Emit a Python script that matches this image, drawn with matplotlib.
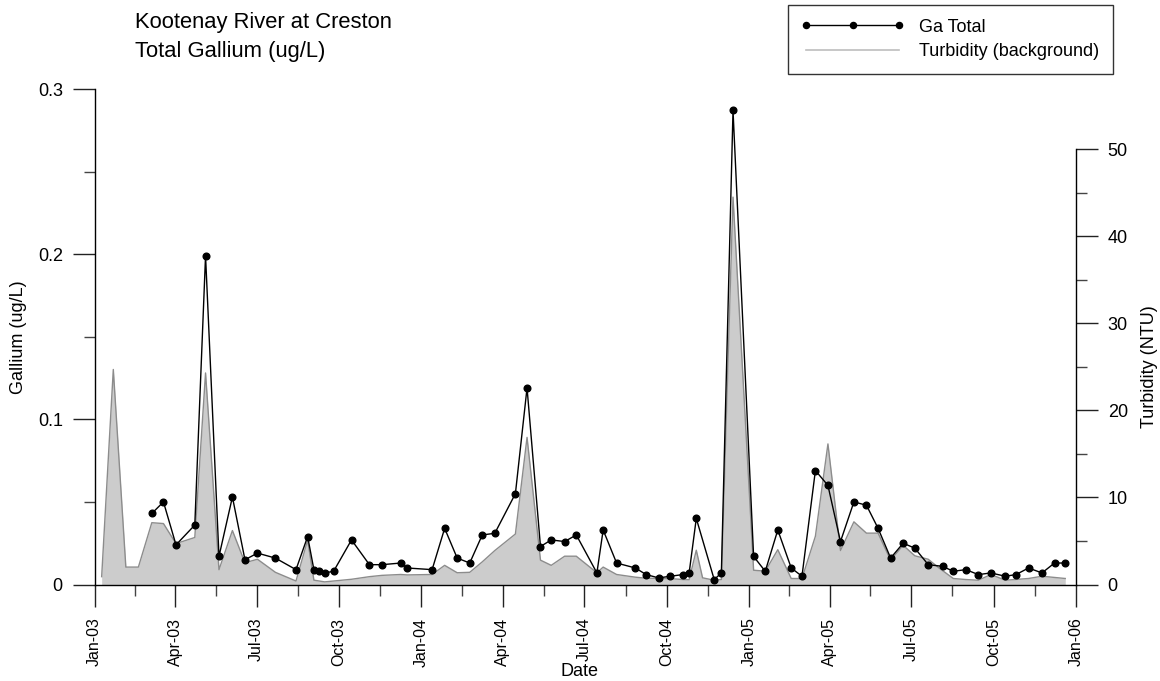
import matplotlib
matplotlib.use("Agg")
import matplotlib.pyplot as plt
import matplotlib.dates as mdates
import numpy as np
import pandas as pd
from matplotlib.lines import Line2D

plt.rcParams['font.family'] = ['Liberation Sans', 'DejaVu Sans']

# ---------------- data ----------------
ga_dates = [
    "2003-03-06", "2003-03-19", "2003-04-02", "2003-04-23", "2003-05-05", "2003-05-20",
    "2003-06-04", "2003-06-18", "2003-07-02", "2003-07-22", "2003-08-14", "2003-08-27",
    "2003-09-03", "2003-09-09", "2003-09-15", "2003-09-25", "2003-10-15", "2003-11-04",
    "2003-11-18", "2003-12-09", "2003-12-16",
    "2004-01-13", "2004-01-27", "2004-02-10", "2004-02-24", "2004-03-09", "2004-03-23",
    "2004-04-15", "2004-04-28", "2004-05-13", "2004-05-25", "2004-06-09", "2004-06-22",
    "2004-07-15", "2004-07-22", "2004-08-06", "2004-08-27", "2004-09-08", "2004-09-22",
    "2004-10-05", "2004-10-19", "2004-10-26", "2004-11-03", "2004-11-23", "2004-12-01",
    "2004-12-14",
    "2005-01-06", "2005-01-19", "2005-02-02", "2005-02-17", "2005-03-01", "2005-03-16",
    "2005-03-30", "2005-04-13", "2005-04-28", "2005-05-12", "2005-05-25", "2005-06-08",
    "2005-06-22", "2005-07-05", "2005-07-20", "2005-08-05", "2005-08-17", "2005-08-31",
    "2005-09-14", "2005-09-28", "2005-10-14", "2005-10-26", "2005-11-09", "2005-11-24",
    "2005-12-08", "2005-12-20",
]
ga_values = [
    0.043, 0.050, 0.024, 0.036, 0.199, 0.017,
    0.053, 0.015, 0.019, 0.016, 0.009, 0.029,
    0.009, 0.008, 0.007, 0.008, 0.027, 0.012,
    0.012, 0.013, 0.010,
    0.009, 0.034, 0.016, 0.013, 0.030, 0.031,
    0.055, 0.119, 0.023, 0.027, 0.026, 0.030,
    0.007, 0.033, 0.013, 0.010, 0.006, 0.004,
    0.005, 0.006, 0.007, 0.040, 0.003, 0.007,
    0.287,
    0.017, 0.008, 0.033, 0.010, 0.005, 0.069,
    0.060, 0.026, 0.050, 0.048, 0.034, 0.016,
    0.025, 0.022, 0.012, 0.011, 0.008, 0.009,
    0.006, 0.007, 0.005, 0.006, 0.010, 0.007,
    0.013, 0.013,
]

turb_dates = [
    "2003-01-09", "2003-01-22", "2003-02-05", "2003-02-19", "2003-03-06", "2003-03-19",
    "2003-04-02", "2003-04-23", "2003-05-05", "2003-05-20", "2003-06-04", "2003-06-18",
    "2003-07-02", "2003-07-22", "2003-08-14", "2003-08-27", "2003-09-03", "2003-09-15",
    "2003-10-15", "2003-11-04", "2003-11-18", "2003-12-09", "2003-12-16",
    "2004-01-13", "2004-01-27", "2004-02-10", "2004-02-24", "2004-03-09", "2004-03-23",
    "2004-04-15", "2004-04-28", "2004-05-13", "2004-05-25", "2004-06-09", "2004-06-22",
    "2004-07-15", "2004-07-22", "2004-08-06", "2004-08-27", "2004-09-08", "2004-09-22",
    "2004-10-05", "2004-10-19", "2004-10-26", "2004-11-03", "2004-11-10", "2004-11-23",
    "2004-12-01", "2004-12-14",
    "2005-01-06", "2005-01-19", "2005-02-02", "2005-02-17", "2005-03-01", "2005-03-16",
    "2005-03-30", "2005-04-13", "2005-04-28", "2005-05-12", "2005-05-25", "2005-06-08",
    "2005-06-22", "2005-07-05", "2005-07-20", "2005-08-01", "2005-08-17", "2005-08-31",
    "2005-09-14", "2005-09-28", "2005-10-14", "2005-11-09", "2005-11-24", "2005-12-20",
]
turb_values = [
    0.9, 24.7, 2.0, 2.0, 7.1, 7.0,
    4.7, 5.4, 24.3, 1.7, 6.2, 2.5,
    2.9, 1.4, 0.4, 5.1, 0.5, 0.3,
    0.6, 0.9, 1.05, 1.15, 1.1,
    1.15, 2.2, 1.35, 1.4, 2.6, 3.9,
    5.8, 16.9, 2.8, 2.2, 3.25, 3.25,
    1.35, 2.0, 1.15, 0.84, 0.72, 0.70,
    0.68, 0.57, 0.55, 3.94, 0.77, 0.49,
    0.57, 44.5,
    1.64, 1.53, 4.0, 0.69, 0.69, 5.55,
    16.15, 3.9, 7.2, 5.9, 5.9, 2.8,
    4.5, 3.3, 2.9, 1.9, 0.69, 0.57,
    0.49, 1.15, 0.49, 0.69, 0.95, 0.69,
]

title_lines = ["Kootenay River at Creston", "Total Gallium (ug/L)"]
ga_ticks = [0, 0.1, 0.2, 0.3]
ga_tick_labels = ["0", "0.1", "0.2", "0.3"]
turb_ticks = [0, 10, 20, 30, 40, 50]

# ---------------- figure ----------------
W, H = 1160, 681
fig = plt.figure(figsize=(W / 100, H / 100), dpi=100)

x0, x1 = 94.5, 1076.0
y0, y1 = 584.5, 89.0
ax = fig.add_axes([x0 / W, (H - y0) / H, (x1 - x0) / W, (y0 - y1) / H])
ax2 = ax.twinx()
ax.set_zorder(ax2.get_zorder() + 1)
ax.patch.set_visible(False)

gd = pd.to_datetime(ga_dates)
td = pd.to_datetime(turb_dates)

# turbidity background
ax2.fill_between(td, 0, turb_values, color="#cccccc", linewidth=0, zorder=1)
ax2.plot(td, turb_values, color="#8c8c8c", lw=1.0, zorder=2)

# gallium
ax.plot(gd, ga_values, color="black", lw=1.0, marker="o", ms=4.8,
        markerfacecolor="black", markeredgecolor="black", zorder=5)

xmin, xmax = pd.Timestamp("2003-01-01"), pd.Timestamp("2006-01-01")
ax.set_xlim(xmin, xmax)
ax.set_ylim(0, 0.3)
ax2.set_ylim(0, 56.92)

# x ticks
majors = pd.date_range("2003-01-01", "2006-01-01", freq="3MS")
maj_num = mdates.date2num(majors)
min_num = (maj_num[:-1] + maj_num[1:]) / 2.0
ax.set_xticks(maj_num)
ax.set_xticklabels([d.strftime("%b-%y") for d in majors], rotation=90, fontsize=11.5)
ax.set_xticks(min_num, minor=True)

# left y ticks
ax.set_yticks(ga_ticks)
ax.set_yticklabels(ga_tick_labels, fontsize=13)
ax.set_yticks([0.05, 0.15, 0.25], minor=True)

# right y ticks
ax2.set_yticks(turb_ticks)
ax2.set_yticklabels([str(t) for t in turb_ticks], fontsize=13)
ax2.set_yticks([5, 15, 25, 35, 45], minor=True)

for a in (ax, ax2):
    a.tick_params(which="major", direction="out", length=15.8, width=1.0, color="#222222", pad=7)
    a.tick_params(which="minor", direction="out", length=7.9, width=1.0, color="#444444")
ax.tick_params(axis="x", which="major", pad=8)

ax.spines["top"].set_visible(False)
ax2.spines["top"].set_visible(False)
ax.spines["right"].set_visible(False)
ax2.spines["left"].set_visible(False)
ax2.spines["bottom"].set_visible(False)
ax2.spines["right"].set_bounds(0, 50)
for s in ("left", "bottom"):
    ax.spines[s].set_linewidth(1.0)
ax2.spines["right"].set_linewidth(1.0)

# axis labels
fig.text(18.5 / W, 1 - 337 / H, "Gallium (ug/L)", rotation=90, ha="center", va="center", fontsize=13)
fig.text(1149 / W, 1 - 367 / H, "Turbidity (NTU)", rotation=90, ha="center", va="center", fontsize=13)
fig.text(580 / W, 1 - 676 / H, "Date", ha="center", va="baseline", fontsize=13)

# title
fig.text(135 / W, 1 - 28.3 / H, title_lines[0], ha="left", va="baseline", fontsize=15.8)
fig.text(135 / W, 1 - 56.7 / H, title_lines[1], ha="left", va="baseline", fontsize=15.8)

# legend
h1 = Line2D([], [], color="black", lw=1.0, marker="o", ms=4.4)
h2 = Line2D([], [], color="#bdbdbd", lw=1.2)
leg = fig.legend([h1, h2], ["Ga Total", "Turbidity (background)"],
                 loc="upper right", bbox_to_anchor=(1113 / W, 1 - 5 / H),
                 numpoints=3, handlelength=5.7, handletextpad=0.85,
                 fontsize=13, frameon=True, fancybox=False, borderpad=0.75,
                 labelspacing=0.42, borderaxespad=0)
leg.get_frame().set_edgecolor("black")
leg.get_frame().set_linewidth(1.0)

fig.savefig("out.png", dpi=100)
